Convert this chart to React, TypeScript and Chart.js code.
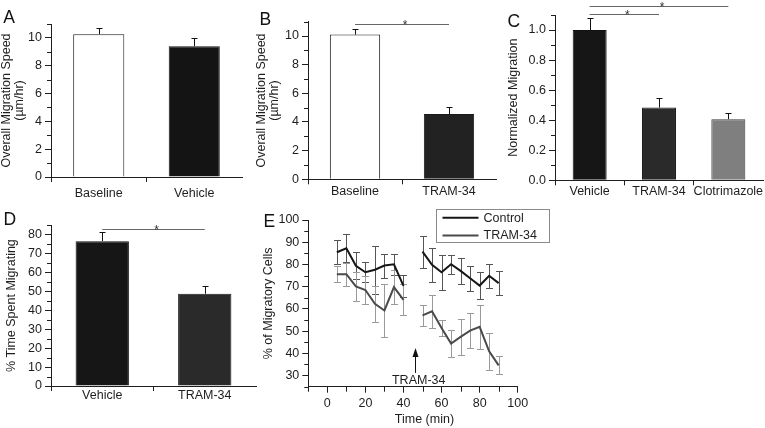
import React, { useEffect, useRef } from 'react';
import { Chart, registerables } from 'chart.js';

Chart.register(...registerables);

const FONT = '"Liberation Sans", Arial, Helvetica, sans-serif';
const INK = '#1e1e1e';
Chart.defaults.font.family = FONT;
Chart.defaults.font.size = 12.5;
Chart.defaults.color = INK;

// ---------------- data ----------------
// Panel A
const aCategories = ['Baseline', 'Vehicle'];
const aMeans = [10.27, 9.4];
const aSem = [0.43, 0.56];
const aYTicks = [0, 2, 4, 6, 8, 10];
const aYMinorTicks = [1, 3, 5, 7, 9, 11];

// Panel B
const bCategories = ['Baseline', 'TRAM-34'];
const bMeans = [10.1, 4.56];
const bSem = [0.37, 0.51];
const bYTicks = [0, 2, 4, 6, 8, 10];
const bYMinorTicks = [1, 3, 5, 7, 9, 11];

// Panel C
const cCategories = ['Vehicle', 'TRAM-34', 'Clotrimazole'];
const cMeans = [1.0, 0.484, 0.407];
const cSem = [0.08, 0.063, 0.04];
const cYTicks = [0, 0.2, 0.4, 0.6, 0.8, 1.0];
const cYMinorTicks = [0.1, 0.3, 0.5, 0.7, 0.9, 1.1];

// Panel D
const dCategories = ['Vehicle', 'TRAM-34'];
const dMeans = [76.6, 48.8];
const dSem = [5.0, 3.9];
const dYTicks = [0, 10, 20, 30, 40, 50, 60, 70, 80];
const dYMinorTicks = [5, 15, 25, 35, 45, 55, 65, 75, 85];

// Panel E
const eTimes = [5, 10, 15, 20, 25, 30, 35, 40, 45, 50, 55, 60, 65, 70, 75, 80, 85, 90];
const eControl = [85.5, 87.3, 79.4, 76.5, 77.6, 79.5, 80.1, 70.4, null, 85.8, 79.8, 76.5, 80.1, 77.1, 73.8, 70.5, 74.9, 71.6];
const eControlSem = [5.4, 6.2, 6.0, 4.5, 10.7, 5.4, 4.8, 5.0, null, 7.2, 7.5, 7.8, 4.2, 6.0, 5.6, 6.0, 5.4, 5.5];
const eTram = [75.6, 75.6, 70.1, 68.5, 62.3, 59.3, 69.8, 64.1, null, 57.1, 58.9, 51.4, 44.4, 47.4, 50.2, 51.9, 40.9, 34.6];
const eTramSem = [3.5, 5.2, 6.7, 6.3, 8.2, 12.0, 7.5, 7.0, null, 4.8, 7.5, 3.5, 6.2, 8.0, 7.8, 10.0, 8.3, 4.1];
const eSeriesNames = ['Control', 'TRAM-34'];
const eXTicks = [0, 20, 40, 60, 80, 100];
const eXMinorTicks = [-10, 10, 30, 50, 70, 90];
const eYTicks = [30, 40, 50, 60, 70, 80, 90, 100];
const eYMinorTicks = [25, 35, 45, 55, 65, 75, 85, 95];

// ---------------- layout ----------------
const W = 800;
const H = 440;
const XH = 40;
const HALF_TITLE = 6.56;

const px = (v: number) => Math.round(v) + 0.5;

function makeExtras(cfg: any) {
  return {
    id: 'extras',
    beforeDatasetsDraw(chart: any) {
      const { ctx } = chart;
      const xs = chart.scales.x;
      const ys = chart.scales.y;
      if (cfg.lineErrors) {
        cfg.lineErrors.forEach((s: any) => {
          ctx.save();
          ctx.strokeStyle = s.color;
          ctx.lineWidth = 1;
          ctx.beginPath();
          s.means.forEach((m: number | null, i: number) => {
            const e = s.errors[i];
            if (m == null || e == null) return;
            const x = px(xs.getPixelForValue(s.xs[i]));
            const y1 = px(ys.getPixelForValue(m - e));
            const y2 = px(ys.getPixelForValue(m + e));
            ctx.moveTo(x, y1);
            ctx.lineTo(x, y2);
            ctx.moveTo(x - cfg.cap, y1);
            ctx.lineTo(x + cfg.cap, y1);
            ctx.moveTo(x - cfg.cap, y2);
            ctx.lineTo(x + cfg.cap, y2);
          });
          ctx.stroke();
          ctx.restore();
        });
      }
    },
    afterDatasetsDraw(chart: any) {
      const { ctx } = chart;
      const xs = chart.scales.x;
      const ys = chart.scales.y;
      if (cfg.barErrors) {
        ctx.save();
        ctx.strokeStyle = cfg.barErrors.color;
        ctx.lineWidth = 1;
        ctx.beginPath();
        cfg.barErrors.means.forEach((m: number, i: number) => {
          const e = cfg.barErrors.errors[i];
          const x = px(xs.getPixelForValue(i));
          const y1 = ys.getPixelForValue(m);
          const y2 = px(ys.getPixelForValue(m + e));
          ctx.moveTo(x, y1);
          ctx.lineTo(x, y2);
          ctx.moveTo(x - cfg.cap, y2);
          ctx.lineTo(x + cfg.cap, y2);
        });
        ctx.stroke();
        ctx.restore();
      }
    },
    afterDraw(chart: any) {
      const { ctx, chartArea: ca } = chart;
      const xs = chart.scales.x;
      const ys = chart.scales.y;
      ctx.save();
      ctx.strokeStyle = INK;
      ctx.lineWidth = 1;
      ctx.beginPath();
      if (cfg.minorY) {
        cfg.minorY.values.forEach((v: number) => {
          const y = px(ys.getPixelForValue(v));
          ctx.moveTo(ca.left - cfg.minorY.len, y);
          ctx.lineTo(ca.left, y);
        });
      }
      if (cfg.minorX) {
        cfg.minorX.values.forEach((v: number) => {
          const x = px(xs.getPixelForValue(v));
          ctx.moveTo(x, ca.bottom);
          ctx.lineTo(x, ca.bottom + cfg.minorX.len);
        });
      }
      ctx.stroke();
      ctx.restore();

      if (cfg.sig) {
        cfg.sig.forEach((s: any) => {
          const x1 = xs.getPixelForValue(s.from);
          const x2 = xs.getPixelForValue(s.to);
          const y = px(ys.getPixelForValue(s.y));
          ctx.save();
          ctx.strokeStyle = '#666';
          ctx.lineWidth = 1;
          ctx.beginPath();
          ctx.moveTo(x1, y);
          ctx.lineTo(x2, y);
          ctx.stroke();
          ctx.fillStyle = '#333';
          ctx.font = `12px ${FONT}`;
          ctx.textAlign = 'center';
          ctx.textBaseline = 'alphabetic';
          ctx.fillText('*', (x1 + x2) / 2 + 3, y + 4);
          ctx.restore();
        });
      }

      if (cfg.letter) {
        ctx.save();
        ctx.fillStyle = '#111';
        ctx.font = `17.5px ${FONT}`;
        ctx.textAlign = 'left';
        ctx.textBaseline = 'alphabetic';
        ctx.fillText(cfg.letter.text, cfg.letter.x, cfg.letter.y);
        ctx.restore();
      }

      if (cfg.arrow) {
        const a = cfg.arrow;
        const x = px(xs.getPixelForValue(a.x));
        const yTip = ys.getPixelForValue(a.tip);
        const yTail = ys.getPixelForValue(a.tail);
        ctx.save();
        ctx.strokeStyle = '#111';
        ctx.fillStyle = '#111';
        ctx.lineWidth = 1;
        ctx.beginPath();
        ctx.moveTo(x, yTail);
        ctx.lineTo(x, yTip + 6);
        ctx.stroke();
        ctx.beginPath();
        ctx.moveTo(x, yTip);
        ctx.lineTo(x - 3, yTip + 9);
        ctx.lineTo(x + 3, yTip + 9);
        ctx.closePath();
        ctx.fill();
        ctx.font = `12.5px ${FONT}`;
        ctx.textAlign = 'center';
        ctx.textBaseline = 'middle';
        ctx.fillStyle = INK;
        ctx.fillText(a.label, xs.getPixelForValue(a.labelX), ys.getPixelForValue(a.labelY));
        ctx.restore();
      }

      if (cfg.xTitle) {
        ctx.save();
        ctx.font = `12.5px ${FONT}`;
        ctx.textAlign = 'center';
        ctx.textBaseline = 'middle';
        ctx.fillStyle = INK;
        ctx.fillText(cfg.xTitle.text, xs.getPixelForValue(cfg.xTitle.at), ca.bottom + cfg.xTitle.dy);
        ctx.restore();
      }

      if (cfg.legend) {
        const lg = cfg.legend;
        const left = px(ca.left + lg.dx);
        const top = px(ca.top + lg.dy);
        ctx.save();
        ctx.fillStyle = '#fff';
        ctx.fillRect(left, top, lg.w, lg.h);
        ctx.strokeStyle = '#8a8a8a';
        ctx.lineWidth = 1;
        ctx.strokeRect(left, top, lg.w, lg.h);
        chart.data.datasets.forEach((ds: any, i: number) => {
          const y = top + lg.rows[i];
          ctx.strokeStyle = ds.borderColor;
          ctx.lineWidth = 2;
          ctx.beginPath();
          ctx.moveTo(left + 6, y);
          ctx.lineTo(left + 42, y);
          ctx.stroke();
          ctx.fillStyle = INK;
          ctx.font = `12.5px ${FONT}`;
          ctx.textAlign = 'left';
          ctx.textBaseline = 'middle';
          ctx.fillText(ds.label, left + 47, y + 0.5);
        });
        ctx.restore();
      }
    },
  };
}

interface Area { left: number; right: number; top: number; bottom: number; titleX: number; }

function yAxis(area: Area, max: number, min: number, ticks: number[], decimals: number, title: string | string[]) {
  const padLeft = area.titleX - HALF_TITLE;
  const yW = area.left - padLeft;
  return {
    min,
    max,
    afterBuildTicks: (s: any) => {
      s.ticks = ticks.map((v) => ({ value: v }));
    },
    afterFit: (s: any) => {
      s.width = yW;
    },
    ticks: {
      color: INK,
      padding: 3,
      autoSkip: false,
      callback: (v: number) => v.toFixed(decimals),
    },
    grid: { drawOnChartArea: false, tickLength: 6, color: INK, tickWidth: 1 },
    border: { color: INK, width: 1 },
    title: {
      display: true,
      text: title,
      color: INK,
      padding: 0,
      font: { size: 12.5, lineHeight: 1.05 },
    },
  };
}

function layoutPadding(area: Area) {
  return {
    left: area.titleX - HALF_TITLE,
    top: area.top,
    right: W - area.right,
    bottom: H - area.bottom - XH,
  };
}

function barChart(opts: {
  labels: string[];
  means: number[];
  sem: number[];
  colors: string[];
  borders: string[];
  barPct: number;
  area: Area;
  yMax: number;
  yTicks: number[];
  yMinor: number[];
  minorLen: number;
  decimals: number;
  title: string | string[];
  labelPad: number;
  letter: any;
  sig?: any[];
}) {
  const { area } = opts;
  return {
    type: 'bar',
    data: {
      labels: opts.labels,
      datasets: [
        {
          data: opts.means,
          backgroundColor: opts.colors,
          borderColor: opts.borders,
          borderWidth: 1,
          barPercentage: opts.barPct,
          categoryPercentage: 1,
        },
      ],
    },
    options: {
      responsive: false,
      animation: false,
      devicePixelRatio: 1,
      layout: { padding: layoutPadding(area) },
      plugins: { legend: { display: false }, tooltip: { enabled: false }, title: { display: false } },
      scales: {
        x: {
          afterFit: (s: any) => {
            s.height = XH;
          },
          ticks: { color: INK, padding: opts.labelPad, maxRotation: 0, minRotation: 0, autoSkip: false },
          grid: {
            drawOnChartArea: false,
            tickLength: 5,
            color: INK,
            tickColor: (c: any) => (c.type === 'tick' ? INK : 'rgba(0,0,0,0)'),
          },
          border: { color: INK, width: 1 },
        },
        y: yAxis(area, opts.yMax, 0, opts.yTicks, opts.decimals, opts.title),
      },
    },
    plugins: [
      makeExtras({
        cap: 3,
        barErrors: { means: opts.means, errors: opts.sem, color: '#111' },
        minorY: { values: opts.yMinor, len: opts.minorLen },
        sig: opts.sig,
        letter: opts.letter,
      }),
    ],
  };
}

const configA = () =>
  barChart({
    labels: aCategories,
    means: aMeans,
    sem: aSem,
    colors: ['#ffffff', '#141414'],
    borders: ['#1a1a1a', '#141414'],
    barPct: 0.535,
    area: { left: 51, right: 242, top: 24, bottom: 177, titleX: 6.5 },
    yMax: 11,
    yTicks: aYTicks,
    yMinor: aYMinorTicks,
    minorLen: 4,
    decimals: 0,
    title: ['Overall Migration Speed', '(\u00b5m/hr)'],
    labelPad: 4.5,
    letter: { text: 'A', x: 3.3, y: 23.3 },
  });

const configB = () =>
  barChart({
    labels: bCategories,
    means: bMeans,
    sem: bSem,
    colors: ['#ffffff', '#222222'],
    borders: ['#1a1a1a', '#1a1a1a'],
    barPct: 0.535,
    area: { left: 308, right: 496, top: 21.7, bottom: 179.3, titleX: 261.7 },
    yMax: 11,
    yTicks: bYTicks,
    yMinor: bYMinorTicks,
    minorLen: 4,
    decimals: 0,
    title: ['Overall Migration Speed', '(\u00b5m/hr)'],
    labelPad: 0,
    letter: { text: 'B', x: 259.5, y: 25 },
    sig: [{ from: 0, to: 1, y: 10.84 }],
  });

const configC = () =>
  barChart({
    labels: cCategories,
    means: cMeans,
    sem: cSem,
    colors: ['#161616', '#2a2a2a', '#7f7f7f'],
    borders: ['#111111', '#1a1a1a', '#3a3a3a'],
    barPct: 0.49,
    area: { left: 555, right: 763, top: 15, bottom: 180.3, titleX: 513.3 },
    yMax: 1.1,
    yTicks: cYTicks,
    yMinor: cYMinorTicks,
    minorLen: 4,
    decimals: 1,
    title: 'Normalized Migration',
    labelPad: -1,
    letter: { text: 'C', x: 507.5, y: 26.7 },
    sig: [
      { from: 0, to: 1, y: 1.105 },
      { from: 0, to: 2, y: 1.16 },
    ],
  });

const configD = () =>
  barChart({
    labels: dCategories,
    means: dMeans,
    sem: dSem,
    colors: ['#161616', '#2a2a2a'],
    borders: ['#111111', '#1a1a1a'],
    barPct: 0.52,
    area: { left: 51, right: 256, top: 225.3, bottom: 386, titleX: 11.7 },
    yMax: 85,
    yTicks: dYTicks,
    yMinor: dYMinorTicks,
    minorLen: 4,
    decimals: 0,
    title: '% Time Spent Migrating',
    labelPad: -3,
    letter: { text: 'D', x: 3.5, y: 225 },
    sig: [{ from: 0, to: 1, y: 83.3 }],
  });

const configE = () => {
  const area: Area = { left: 308.3, right: 517.7, top: 220, bottom: 386.7, titleX: 268.3 };
  const toPts = (ys: (number | null)[]) => eTimes.map((t, i) => ({ x: t, y: ys[i] }));
  return {
    type: 'line',
    data: {
      datasets: [
        {
          label: eSeriesNames[0],
          data: toPts(eControl),
          borderColor: '#161616',
          borderWidth: 2,
          pointRadius: 0,
          spanGaps: false,
          tension: 0,
          fill: false,
        },
        {
          label: eSeriesNames[1],
          data: toPts(eTram),
          borderColor: '#4a4a4a',
          borderWidth: 2,
          pointRadius: 0,
          spanGaps: false,
          tension: 0,
          fill: false,
        },
      ],
    },
    options: {
      responsive: false,
      animation: false,
      devicePixelRatio: 1,
      layout: { padding: layoutPadding(area) },
      plugins: { legend: { display: false }, tooltip: { enabled: false }, title: { display: false } },
      scales: {
        x: {
          type: 'linear',
          min: -10,
          max: 100,
          afterBuildTicks: (s: any) => {
            s.ticks = eXTicks.map((v) => ({ value: v }));
          },
          afterFit: (s: any) => {
            s.height = XH;
          },
          ticks: { color: INK, padding: 3, maxRotation: 0, autoSkip: false },
          grid: { drawOnChartArea: false, tickLength: 6, color: INK },
          border: { color: INK, width: 1 },
        },
        y: yAxis(area, 100, 25, eYTicks, 0, '% of Migratory Cells'),
      },
    },
    plugins: [
      makeExtras({
        cap: 3.5,
        lineErrors: [
          { xs: eTimes, means: eControl, errors: eControlSem, color: '#555555' },
          { xs: eTimes, means: eTram, errors: eTramSem, color: '#9a9a9a' },
        ],
        minorY: { values: eYMinorTicks, len: 4 },
        minorX: { values: eXMinorTicks, len: 5 },
        letter: { text: 'E', x: 263.5, y: 227.3 },
        arrow: { x: 46.3, tip: 42.4, tail: 31.2, label: 'TRAM-34', labelX: 48, labelY: 27.75 },
        xTitle: { text: 'Time (min)', at: 51, dy: 32.6 },
        legend: { dx: 127.4, dy: -11, w: 113, h: 33, rows: [8.3, 26] },
      }),
    ],
  };
};

function ChartCanvas({ make }: { make: () => any }) {
  const ref = useRef<HTMLCanvasElement>(null);
  useEffect(() => {
    const chart = new Chart(ref.current as HTMLCanvasElement, make());
    return () => chart.destroy();
  }, [make]);
  return (
    <canvas
      ref={ref}
      width={W}
      height={H}
      style={{ position: 'absolute', left: 0, top: 0, width: W, height: H }}
    />
  );
}

const makers = [configA, configB, configC, configD, configE];

export default function App() {
  return (
    <div
      style={{
        position: 'fixed',
        left: 0,
        top: 0,
        width: 765,
        height: 428,
        overflow: 'hidden',
        background: '#ffffff',
      }}
    >
      {makers.map((m, i) => (
        <ChartCanvas key={i} make={m} />
      ))}
    </div>
  );
}
